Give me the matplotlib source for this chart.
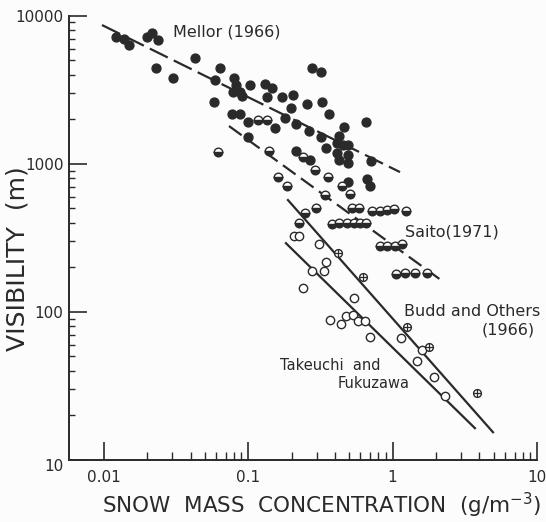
import numpy as np
import matplotlib.pyplot as plt
import matplotlib.transforms as mtransforms

# Mellor (1966) - filled circles
mellor_x = [0.0122, 0.0139, 0.0150, 0.0200, 0.0217, 0.0238, 0.0430, 0.0231, 0.0303, 0.0640,
            0.0591, 0.0800, 0.0582, 0.0826, 0.0787, 0.0881, 0.0909, 0.103, 0.131, 0.147,
            0.135, 0.172, 0.205, 0.198, 0.256, 0.325, 0.364, 0.277, 0.320, 0.0775,
            0.0881, 0.100, 0.154, 0.180, 0.215, 0.264, 0.100, 0.462, 0.320, 0.347,
            0.413, 0.427, 0.454, 0.492, 0.413, 0.427, 0.492, 0.215, 0.269, 0.656,
            0.492, 0.710, 0.666, 0.698, 0.492]
mellor_y = [7180, 6960, 6340, 7180, 7640, 6850, 5180, 4440, 3790, 4440,
            3680, 3790, 2610, 3400, 3050, 3050, 2860, 3400, 3460, 3240,
            2830, 2830, 2910, 2380, 2530, 2610, 2170, 4440, 4170, 2170,
            2170, 1915, 1742, 2037, 1854, 1663, 1514, 1770, 1514, 1276,
            1380, 1538, 1336, 1336, 1180, 1059, 1011, 1218, 1059, 1915,
            1146, 1042, 789, 706, 752]

# Saito (1971) - half filled circles
saito_x = [0.0620, 0.117, 0.135, 0.140, 0.240, 0.291, 0.161, 0.186, 0.358, 0.341,
           0.447, 0.508, 0.296, 0.248, 0.226, 0.525, 0.587, 0.721, 0.820, 0.916,
           1.024, 1.240, 0.381, 0.427, 0.484, 0.542, 0.596, 0.656, 0.820, 0.916,
           1.041, 1.163, 1.057, 1.22, 1.431, 1.733]
saito_y = [1199, 1972, 1972, 1218, 1110, 907, 813, 706, 813, 614,
           706, 624, 502, 464, 397, 502, 502, 479, 479, 487,
           494, 479, 391, 397, 397, 397, 397, 397, 278, 278,
           278, 286, 180, 183, 183, 183]

# Budd and Others (1966) - circled plus
budd_x = [0.420, 0.625, 1.26, 1.79, 3.85]
budd_y = [249, 172, 78.8, 57.7, 28.5]

# Takeuchi and Fukuzawa - open circles
take_x = [0.208, 0.226, 0.310, 0.347, 0.336, 0.277, 0.240, 0.542, 0.369, 0.440,
          0.477, 0.533, 0.577, 0.645, 0.698, 1.145, 1.60, 1.478, 1.937, 2.309]
take_y = [325, 325, 286, 217, 188, 188, 145, 124, 87.9, 82.6,
          93.5, 95.1, 86.5, 86.5, 67.5, 66.4, 55.1, 46.4, 36.2, 26.9]

# fitted lines (end points)
mellor_line_x = [0.00976, 1.127]
mellor_line_y = [8650, 879]
saito_line_x = [0.0739, 2.13]
saito_line_y = [1798, 166]
budd_line_x = [0.189, 4.96]
budd_line_y = [569, 15.4]
take_line_x = [0.183, 3.72]
take_line_y = [291, 16.4]

ink = '#2a2a2a'
W, H = 546, 522

fig = plt.figure(figsize=(W / 100, H / 100), dpi=100)
fig.patch.set_facecolor('#fcfcfc')
ax = fig.add_axes([69 / W, 1 - 460 / H, (537 - 69) / W, (460 - 15.7) / H])
ax.patch.set_alpha(0)
ax.set_xscale('log')
ax.set_yscale('log')
ax.set_xlim(0.00577, 10)
ax.set_ylim(10, 10000)

for s in ['top', 'right']:
    ax.spines[s].set_visible(False)
for s in ['left', 'bottom']:
    ax.spines[s].set_linewidth(1.4)
    ax.spines[s].set_color(ink)

# lines
ax.plot(mellor_line_x, mellor_line_y, color=ink, lw=1.6, dashes=(9, 3), zorder=1)
ax.plot(saito_line_x, saito_line_y, color=ink, lw=1.6, dashes=(7, 3), zorder=1)
ax.plot(budd_line_x, budd_line_y, color=ink, lw=1.6, zorder=1)
ax.plot(take_line_x, take_line_y, color=ink, lw=1.6, zorder=1)

# markers
ax.plot(mellor_x, mellor_y, 'o', ms=6.4, color=ink, mec=ink, zorder=3)
ax.plot(saito_x, saito_y, 'o', ms=6.2, fillstyle='bottom', mfc=ink,
        markerfacecoloralt='white', mec=ink, mew=1.0, zorder=3)
ax.plot(take_x, take_y, 'o', ms=6.0, mfc='white', mec=ink, mew=1.0, zorder=3)
ax.plot(budd_x, budd_y, 'o', ms=5.6, mfc='white', mec=ink, mew=1.0, zorder=3)
ax.plot(budd_x, budd_y, '+', ms=5.6, mec=ink, mew=0.9, zorder=4)

# ticks
ax.set_xticks([0.01, 0.1, 1, 10])
ax.set_xticklabels(['0.01', '0.1', '1', '10'])
ax.set_xticks([m * 10.0 ** k for k in (-2, -1, 0) for m in range(2, 10)], minor=True)
ax.set_yticks([10, 100, 1000, 10000])
ax.set_yticklabels(['10', '100', '1000', '10000'])
ax.set_yticks([m * 10.0 ** k for k in (1, 2, 3) for m in range(2, 10)], minor=True)
ax.tick_params(which='both', direction='in', color=ink, labelcolor=ink)
ax.tick_params(axis='x', which='major', length=13, width=1.2, labelsize=11, pad=7)
ax.tick_params(axis='x', which='minor', length=6, width=1.0)
ax.tick_params(axis='y', which='major', length=13, width=1.2, labelsize=11, pad=4)
ax.tick_params(axis='y', which='minor', length=4.5, width=1.0)

# bottom "10" sits a little below the corner
lbl = ax.get_yticklabels()[0]
lbl.set_transform(lbl.get_transform() + mtransforms.ScaledTranslation(0, -5 / 100, fig.dpi_scale_trans))

# annotations
ax.text(0.0303, 7820, 'Mellor (1966)', fontsize=11.5, color=ink, va='center')
ax.text(1.22, 346, 'Saito(1971)', fontsize=11.5, color=ink, va='center')
ax.text(1.20, 100, 'Budd and Others', fontsize=11.5, color=ink, va='center')
ax.text(9.69, 75.2, '(1966)', fontsize=11.5, color=ink, va='center', ha='right')
ax.text(0.1665, 43.6, 'Takeuchi  and', fontsize=10.5, color=ink, va='center')
ax.text(0.4196, 33.0, 'Fukuzawa', fontsize=10.5, color=ink, va='center')

fig.text(18 / W, 1 - 259 / H, 'VISIBILITY  (m)', rotation=90, fontsize=18,
         color=ink, ha='center', va='center')
fig.text(102 / W, 1 - 505 / H, 'SNOW  MASS  CONCENTRATION  (g/m$^{-3}$)',
         fontsize=15.5, color=ink, ha='left', va='center')

fig.savefig('out.png', dpi=100, facecolor=fig.get_facecolor())
